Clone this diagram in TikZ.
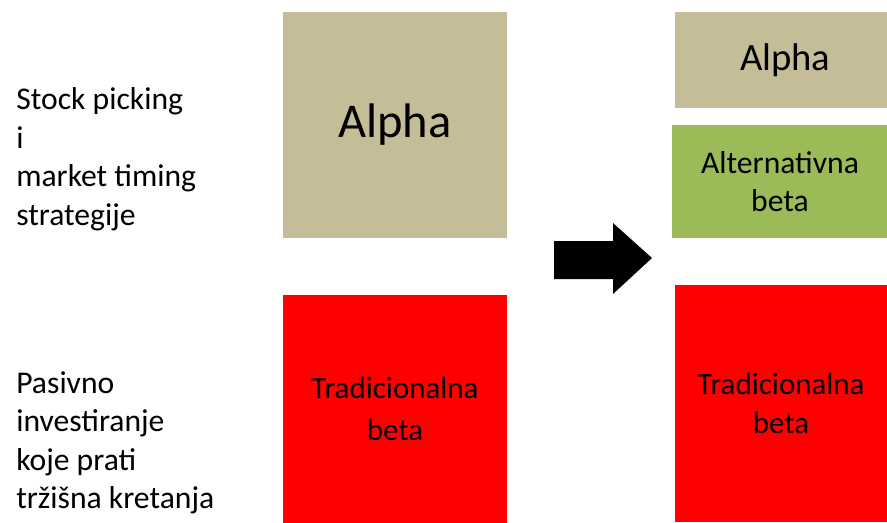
\documentclass[tikz,border=0pt]{standalone}
\usepackage{fontspec}
\setmainfont{Carlito}
\usepackage{xcolor}
\usepackage{tikz}
\usetikzlibrary{positioning}
\definecolor{aTan}{HTML}{C4BD97}
\definecolor{aGreen}{HTML}{9BBB59}
\definecolor{bRed}{HTML}{FF0000}

\begin{document}
\begin{tikzpicture}[x=0.025cm, y=-0.025cm,
      block/.style={inner sep=0pt, align=center, text=black},
      side/.style={anchor=west, align=left, inner sep=0pt, font=\fontsize{22.5}{27.4}\selectfont}]
      \useasboundingbox (0,0) rectangle (887,522);
      % left column
      \node[block, fill=aTan, minimum width=5.6cm, minimum height=5.65cm,
        font=\fontsize{34.5}{40}\selectfont] (alphaL) at (395,125) {Alpha};
      \node[block, fill=bRed, minimum width=5.6cm, minimum height=5.7cm,
        font=\fontsize{22}{28}\selectfont] (tradL) at (395,409) {Tradicionalna\\[2pt]beta};
      % right column
      \node[block, fill=aTan, minimum width=5.3cm, minimum height=2.4cm,
        font=\fontsize{27.5}{32}\selectfont] (alphaR) at (781,60) {\hspace{6pt}Alpha};
      \node[block, fill=aGreen, minimum width=5.4cm, minimum height=2.825cm,
        font=\fontsize{22.5}{27.5}\selectfont] (altR) at (780,181.5) {Alternativna\\beta};
      \node[block, fill=bRed, minimum width=5.3cm, minimum height=5.925cm,
        font=\fontsize{22}{27.5}\selectfont] (tradR) at (781,403.5) {Tradicionalna\\beta};
      % labels
      \node[side] (active) at (16,159) {Stock picking\\i\\market timing\\strategije};
      \node[side] (passive) at (16,443) {Pasivno\\investiranje\\koje prati\\tržišna kretanja};
      % shift arrow
      \fill[black] (554,241) -- (613,241) -- (613,223) -- (652,258)
        -- (613,294) -- (613,279) -- (554,279) -- cycle;
    \end{tikzpicture}
\end{document}
